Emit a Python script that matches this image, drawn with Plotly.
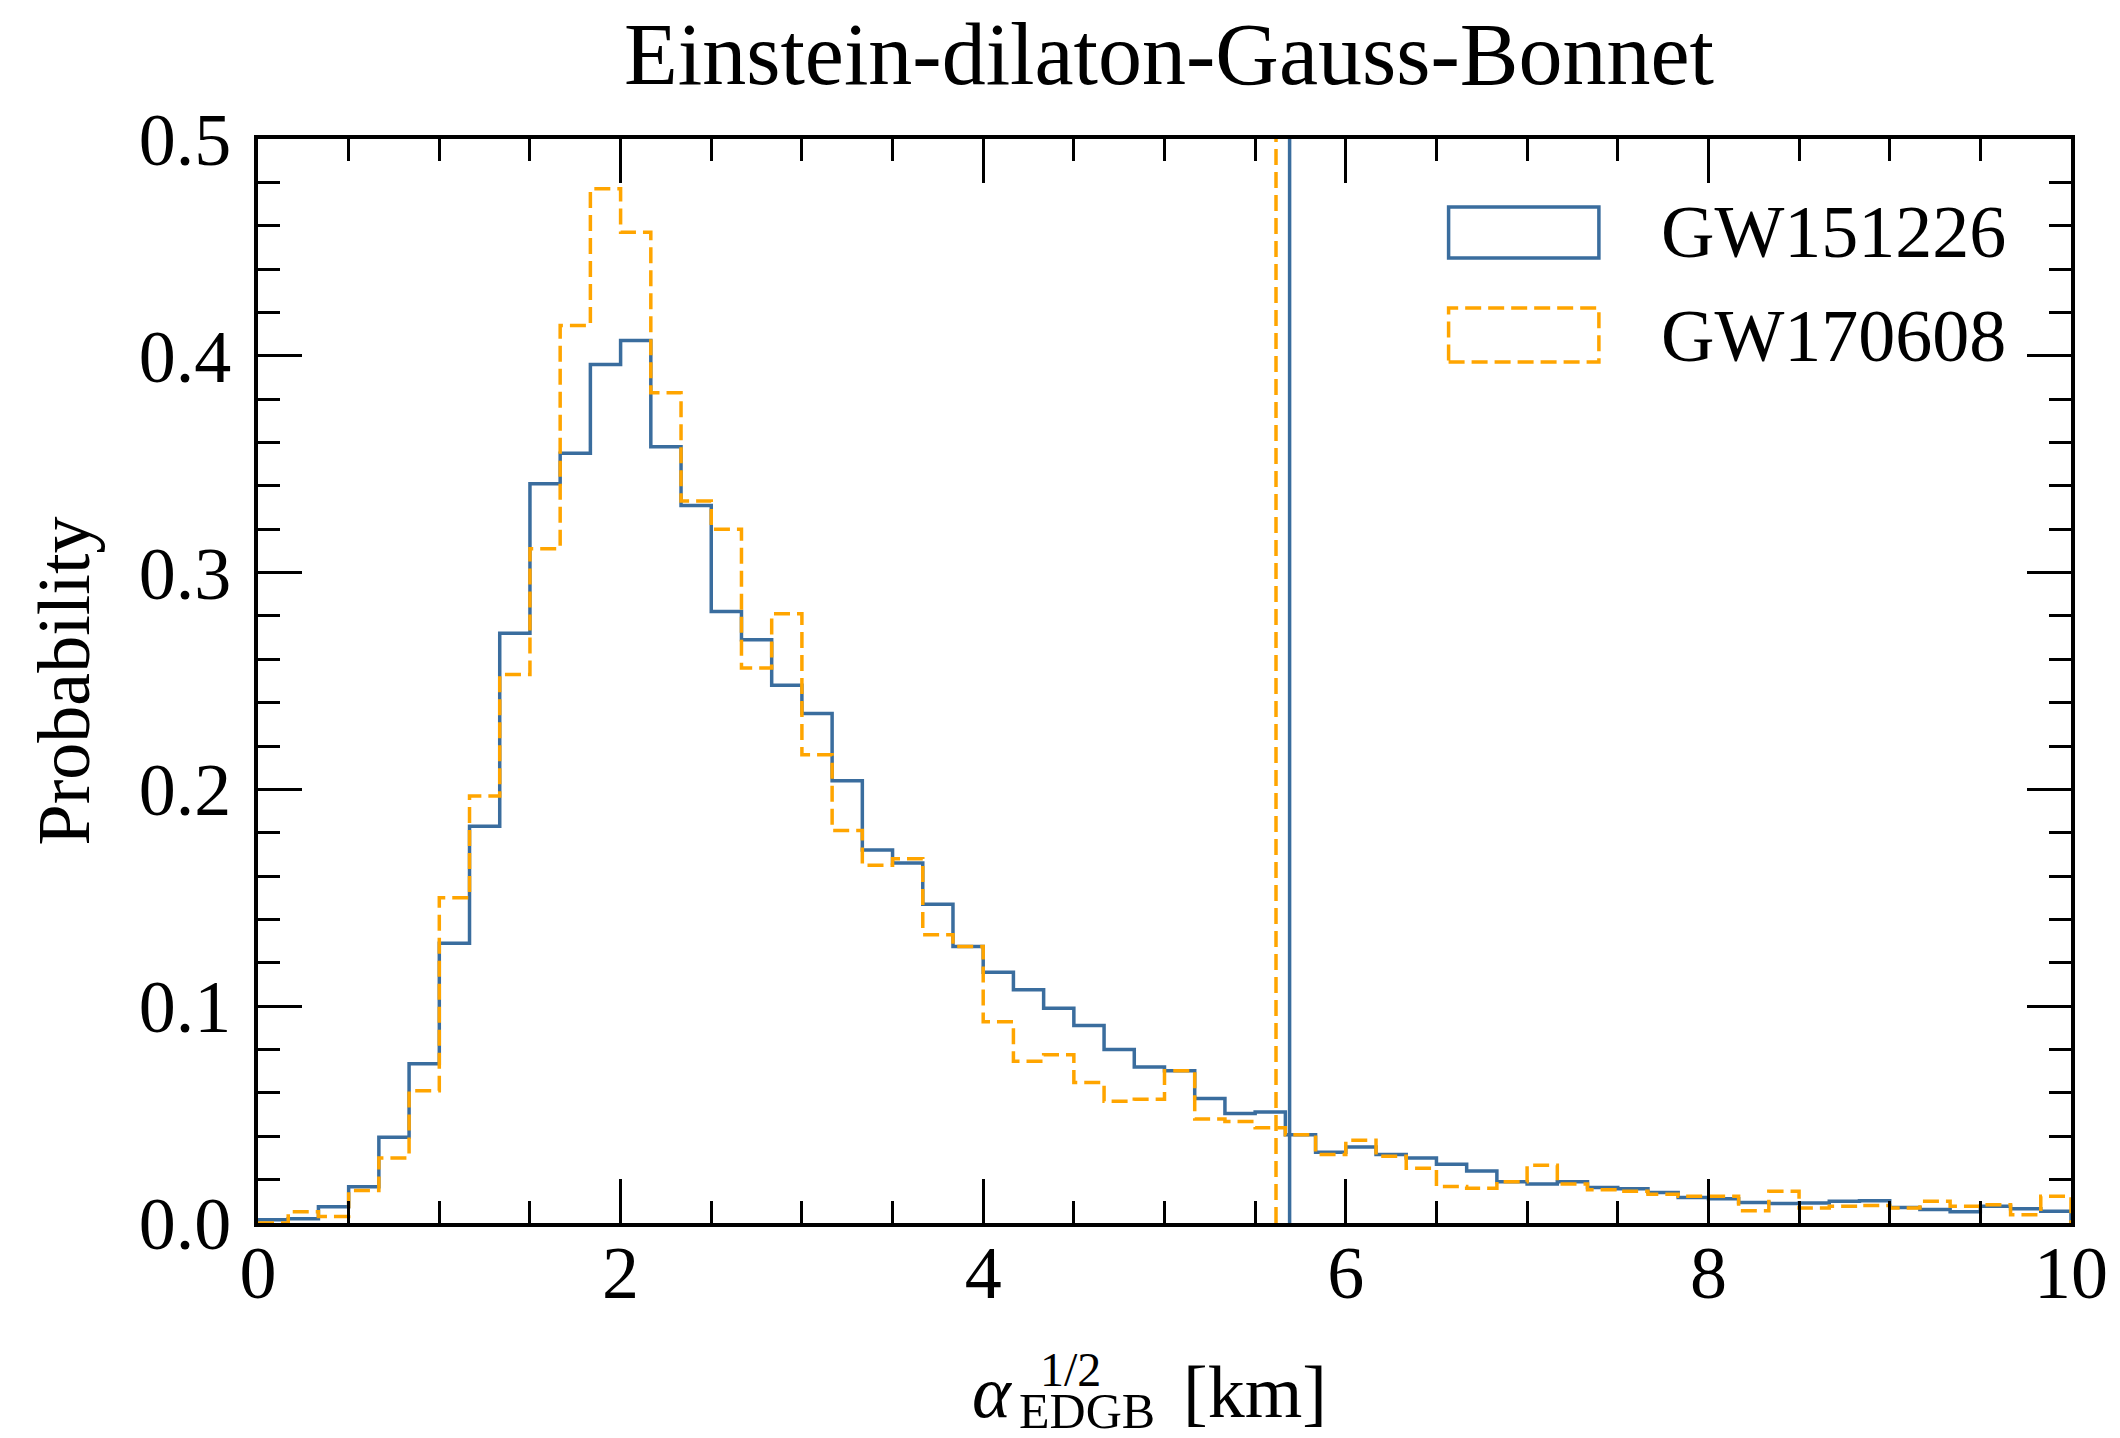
import numpy as np
import plotly.graph_objects as go

# ---- data ----
BIN_EDGES = np.linspace(0.0, 10.0, 61)  # 60 bins of width 1/6 km

GW151226 = [0.0015, 0.002, 0.0075, 0.0167, 0.0395, 0.0734, 0.129, 0.183, 0.272, 0.341,
            0.355, 0.396, 0.407, 0.358, 0.331, 0.282, 0.269, 0.248, 0.235, 0.204,
            0.172, 0.166, 0.147, 0.1275, 0.1157, 0.1076, 0.099, 0.0911, 0.080, 0.0719,
            0.0702, 0.0574, 0.0505, 0.0512, 0.0407, 0.0326, 0.035, 0.0316, 0.030, 0.0271,
            0.024, 0.019, 0.018, 0.019, 0.0164, 0.0158, 0.0141, 0.0118, 0.0112, 0.0095,
            0.009, 0.0092, 0.010, 0.0103, 0.0072, 0.0062, 0.0052, 0.0077, 0.0066, 0.0054]

GW170608 = [0.0, 0.0052, 0.003, 0.015, 0.030, 0.061, 0.150, 0.197, 0.253, 0.311,
            0.414, 0.477, 0.457, 0.383, 0.333, 0.320, 0.256, 0.281, 0.216, 0.181,
            0.165, 0.168, 0.133, 0.1275, 0.0928, 0.0746, 0.0776, 0.0648, 0.0562, 0.0571,
            0.0702, 0.048, 0.0468, 0.0439, 0.0407, 0.0316, 0.0382, 0.0308, 0.0252, 0.0168,
            0.016, 0.019, 0.0266, 0.018, 0.0153, 0.0146, 0.0133, 0.0123, 0.0123, 0.0057,
            0.0146, 0.0069, 0.0077, 0.0081, 0.0069, 0.010, 0.0077, 0.0084, 0.0038, 0.0123]

UPPER_BOUNDS = {"GW151226": 5.69, "GW170608": 5.615}

SERIES_NAMES = ["GW151226", "GW170608"]
X_TICKS = [0, 2, 4, 6, 8, 10]
Y_TICKS = [0.0, 0.1, 0.2, 0.3, 0.4, 0.5]

BLUE = "#3a6d9e"
ORANGE = "#ffa500"
FONT = "Liberation Serif, Times New Roman, serif"
DASH = "16px,7px"

def step_xy(counts):
    x = [BIN_EDGES[0]] + list(BIN_EDGES) + [BIN_EDGES[-1]]
    y = [0.0] + list(counts) + [counts[-1], 0.0]
    return x, y[:len(x)]

fig = go.Figure()
for name, counts, color, dash in [("GW151226", GW151226, BLUE, "solid"),
                                  ("GW170608", GW170608, ORANGE, DASH)]:
    x, y = step_xy(counts)
    fig.add_trace(go.Scatter(x=x, y=y, mode="lines", line=dict(shape="hv", color=color, width=3.5, dash=dash),
                             name=name, showlegend=False, hoverinfo="skip"))

fig.add_shape(type="line", xref="x", yref="paper", x0=UPPER_BOUNDS["GW151226"], x1=UPPER_BOUNDS["GW151226"],
              y0=0, y1=1, line=dict(color=BLUE, width=3.5))
fig.add_shape(type="line", xref="x", yref="paper", x0=UPPER_BOUNDS["GW170608"], x1=UPPER_BOUNDS["GW170608"],
              y0=0, y1=1, line=dict(color=ORANGE, width=3.5, dash=DASH))

# manual legend (rectangular patch handles)
fig.add_shape(type="rect", xref="paper", yref="paper", x0=0.6567, x1=0.7396, y0=0.8902, y1=0.9373,
              line=dict(color=BLUE, width=3.5), fillcolor="rgba(0,0,0,0)")
fig.add_shape(type="rect", xref="paper", yref="paper", x0=0.6567, x1=0.7396, y0=0.7943, y1=0.8441,
              line=dict(color=ORANGE, width=3.5, dash=DASH), fillcolor="rgba(0,0,0,0)")
for name, yc in zip(SERIES_NAMES, [0.9142, 0.8183]):
    fig.add_annotation(text=name, xref="paper", yref="paper", x=0.7727, y=yc, xanchor="left", yanchor="middle",
                       showarrow=False, font=dict(family=FONT, size=74, color="black"))

# x-axis label pieces: alpha_EDGB^{1/2} [km]
fig.add_annotation(text="<i>α</i>", xref="paper", yref="paper", x=0.4050, y=-0.1559, xanchor="center",
                   yanchor="middle", showarrow=False, font=dict(family=FONT, size=74, color="black"))
fig.add_annotation(text="1/2", xref="paper", yref="paper", x=0.4484, y=-0.1356, xanchor="center",
                   yanchor="middle", showarrow=False, font=dict(family=FONT, size=48, color="black"))
fig.add_annotation(text="EDGB", xref="paper", yref="paper", x=0.4575, y=-0.1735, xanchor="center",
                   yanchor="middle", showarrow=False, font=dict(family=FONT, size=50, color="black"))
fig.add_annotation(text="[km]", xref="paper", yref="paper", x=0.5500, y=-0.1559, xanchor="center",
                   yanchor="middle", showarrow=False, font=dict(family=FONT, size=74, color="black"))

axis_common = dict(showgrid=False, zeroline=False, showline=True, linewidth=4, linecolor="black",
                   mirror="ticks", ticks="inside", ticklen=44, tickwidth=3, tickcolor="black",
                   tickfont=dict(family=FONT, size=74, color="black"), ticklabeloverflow="allow")

fig.update_xaxes(range=[0, 10], tickvals=X_TICKS, ticktext=[str(v) for v in X_TICKS],
                 minor=dict(dtick=0.5, ticks="inside", ticklen=22, tickwidth=3, tickcolor="black"),
                 ticklabelstandoff=-18, **axis_common)
fig.update_yaxes(range=[0, 0.5], tickvals=Y_TICKS, ticktext=[f"{v:.1f}" for v in Y_TICKS],
                 minor=dict(dtick=0.02, ticks="inside", ticklen=22, tickwidth=3, tickcolor="black"),
                 title=dict(text="Probability", font=dict(family=FONT, size=74, color="black"), standoff=26),
                 ticklabelstandoff=8, **axis_common)

fig.update_layout(
    width=2120, height=1438,
    margin=dict(l=258, r=40, t=139, b=215),
    paper_bgcolor="white", plot_bgcolor="white",
    title=dict(text="Einstein-dilaton-Gauss-Bonnet", x=0.5514, xanchor="center", y=1 - 53 / 1438,
               yanchor="middle", font=dict(family=FONT, size=88, color="black")),
    showlegend=False,
)

fig.write_html("out.html")
